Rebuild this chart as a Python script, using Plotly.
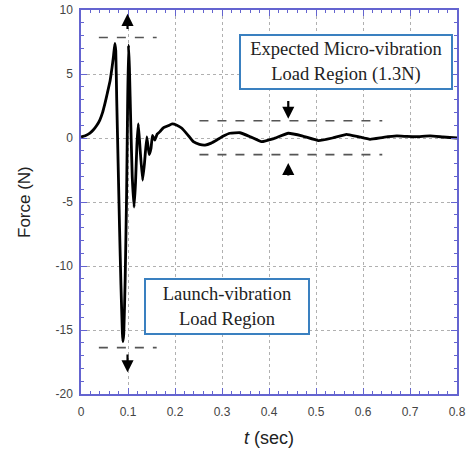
import plotly.graph_objects as go

# --- data ---
t_sec = [0, 0.01, 0.019, 0.026, 0.033, 0.04, 0.046, 0.051, 0.056, 0.062, 0.066, 0.069, 0.072,
         0.074, 0.076, 0.079, 0.082, 0.085, 0.088, 0.089, 0.091, 0.094, 0.097, 0.099, 0.101,
         0.103, 0.106, 0.109, 0.113, 0.116, 0.119, 0.122, 0.126, 0.131, 0.135, 0.14, 0.145,
         0.149, 0.152, 0.157, 0.162, 0.168, 0.175, 0.185, 0.194, 0.204, 0.214, 0.227, 0.239,
         0.252, 0.264, 0.277, 0.289, 0.303, 0.317, 0.338, 0.36, 0.384, 0.41, 0.441, 0.472,
         0.505, 0.535, 0.565, 0.59, 0.615, 0.643, 0.672, 0.693, 0.714, 0.743, 0.77, 0.8]
force_n = [0.08, 0.2, 0.39, 0.62, 0.95, 1.4, 2.0, 2.7, 3.5, 4.5, 5.5, 6.35, 7.4,
           6.8, 3.0, -2.0, -7.0, -11.5, -15.2, -15.9, -15.3, -11.0, -4.5, 2.0, 7.27,
           5.5, 1.0, -3.0, -5.4, -3.5, -0.5, 1.1, -1.0, -3.3, -2.0, 0.08, -1.3,
           -0.8, 0.2, -0.16, 0.3, 0.5, 0.8, 0.95, 1.1, 1.0, 0.78, 0.25, -0.29,
           -0.5, -0.55, -0.4, -0.16, 0.15, 0.37, 0.41, 0.1, -0.29, -0.05, 0.37, 0.15,
           -0.2, 0.0, 0.29, 0.1, -0.1, 0.05, 0.16, 0.12, 0.1, 0.16, 0.08, 0.0]

x_ticks = [0, 0.1, 0.2, 0.3, 0.4, 0.5, 0.6, 0.7, 0.8]
x_tick_labels = ["0", "0.1", "0.2", "0.3", "0.4", "0.5", "0.6", "0.7", "0.8"]
y_ticks = [10, 5, 0, -5, -10, -15, -20]
y_tick_labels = ["10", "5", "0", "-5", "-10", "-15", "-20"]

launch_band = [7.85, -16.38]       # dashed limit levels, launch region
launch_band_t = [0.038, 0.161]
micro_band = [1.35, -1.3]          # dashed limit levels, micro-vibration region
micro_band_t = [0.252, 0.641]

fig = go.Figure()
fig.add_trace(go.Scatter(x=t_sec, y=force_n, mode="lines",
                         line=dict(color="black", width=2.8, shape="spline", smoothing=0.3),
                         showlegend=False, hoverinfo="skip"))

shapes = []
for lvl in launch_band:
    shapes.append(dict(type="line", xref="x", yref="y", x0=launch_band_t[0], x1=launch_band_t[1],
                       y0=lvl, y1=lvl, line=dict(color="#555", width=1.6, dash="dash")))
for lvl in micro_band:
    shapes.append(dict(type="line", xref="x", yref="y", x0=micro_band_t[0], x1=micro_band_t[1],
                       y0=lvl, y1=lvl, line=dict(color="#555", width=1.6, dash="dash")))

annotations = []
def arrow(x, y_tail, y_tip):
    annotations.append(dict(x=x, y=y_tip, ax=x, ay=y_tail, xref="x", yref="y", axref="x", ayref="y",
                            showarrow=True, arrowhead=2, arrowsize=1.1, arrowwidth=2.2,
                            arrowcolor="black", text=""))
arrow(0.099, 8.4, 9.7)
arrow(0.099, -16.8, -18.3)
arrow(0.441, 3.0, 1.5)
arrow(0.441, -3.05, -1.95)

annotations.append(dict(x=0.563, y=5.9, xref="x", yref="y", showarrow=False,
                        text="Expected Micro-vibration<br>Load Region (1.3N)",
                        font=dict(family="Liberation Serif", size=18.5, color="#222"),
                        bgcolor="white", bordercolor="#3a80c0", borderwidth=2, borderpad=2,
                        width=206, height=48))
annotations.append(dict(x=0.311, y=-13.2, xref="x", yref="y", showarrow=False,
                        text="Launch-vibration<br>Load Region",
                        font=dict(family="Liberation Serif", size=18.5, color="#222"),
                        bgcolor="white", bordercolor="#3a80c0", borderwidth=2, borderpad=2,
                        width=158, height=49))

# axis titles placed as paper annotations
annotations.append(dict(x=-0.1516, y=0.5, xref="paper", yref="paper", showarrow=False,
                        text="Force (N)", textangle=-90, xanchor="center", yanchor="middle",
                        font=dict(family="Liberation Sans", size=17, color="#222")))
annotations.append(dict(x=0.5, y=-0.114, xref="paper", yref="paper", showarrow=False,
                        text="<i>t</i> (sec)", xanchor="center", yanchor="middle",
                        font=dict(family="Liberation Sans", size=18, color="#222")))

axis_color = "#6464d0"
fig.update_layout(
    width=470, height=454,
    margin=dict(l=81, r=13, t=10, b=60, autoexpand=False),
    paper_bgcolor="white", plot_bgcolor="white",
    shapes=shapes, annotations=annotations,
    xaxis=dict(range=[0, 0.8], tickvals=x_ticks, ticktext=x_tick_labels, automargin=False,
               showline=True, linecolor=axis_color, linewidth=1.5, mirror="ticks",
               ticks="inside", ticklen=6, tickcolor=axis_color, ticklabelstandoff=6,
               minor=dict(dtick=0.02, ticks="inside", ticklen=3, tickcolor=axis_color, showgrid=False),
               showgrid=True, gridcolor="#b0b0b0", griddash="dot", gridwidth=1,
               zeroline=False, tickfont=dict(family="Liberation Sans", size=12, color="#444")),
    yaxis=dict(range=[-20, 10], tickvals=y_ticks, ticktext=y_tick_labels, automargin=False,
               showline=True, linecolor=axis_color, linewidth=1.5, mirror="ticks",
               ticks="inside", ticklen=6, tickcolor=axis_color, ticklabelstandoff=4,
               minor=dict(dtick=1, ticks="inside", ticklen=3, tickcolor=axis_color, showgrid=False),
               showgrid=True, gridcolor="#b0b0b0", griddash="dot", gridwidth=1,
               zeroline=False, tickfont=dict(family="Liberation Sans", size=12, color="#444")),
)

fig.write_html("out.html")
